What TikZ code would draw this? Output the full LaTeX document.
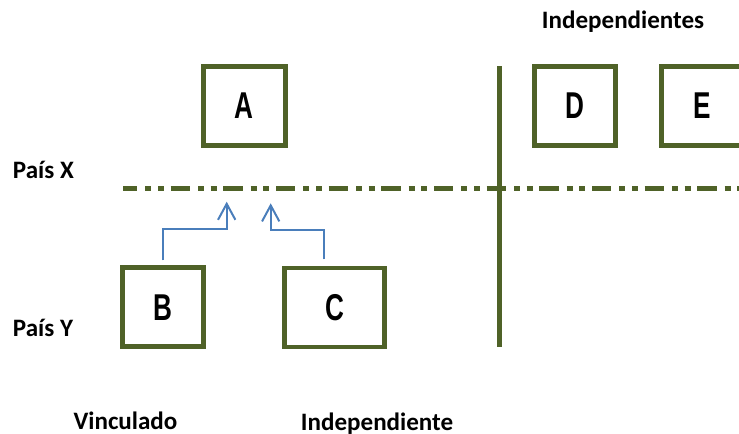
\documentclass[tikz,border=0pt]{standalone}
\usepackage{fontspec}
\setmainfont{Carlito}
\newfontfamily\boxfont[FakeStretch=0.7]{Liberation Sans}
\usepackage{tikz}
\usetikzlibrary{arrows.meta,positioning}

\definecolor{olive}{HTML}{4F6228}
\definecolor{steel}{HTML}{4A7EBB}

\tikzset{
    entity/.style={draw=olive,line width=3.5pt,rectangle,inner sep=0pt,
        minimum height=79*0.75pt,font=\boxfont\bfseries\fontsize{28}{30}\selectfont},
    tag/.style={inner sep=0pt,anchor=base west,font=\bfseries\fontsize{18.8}{22}\selectfont},
    link/.style={draw=steel,line width=1.5pt,
        -{Straight Barb[length=12pt,width=13pt,line width=1.5pt]}},
    border/.style={draw=olive,line width=3.5pt}
}

\begin{document}
\begin{tikzpicture}[x=0.75pt,y=-0.75pt]
    \useasboundingbox (0,0) rectangle (739,433);
    \clip (0,0) rectangle (739,433);
    \path
        (244.2,105.7) node [entity,minimum width=82*0.75pt]  (boxA) {A}
        (575,106)     node [entity,minimum width=80.6*0.75pt] (boxD) {D}
        (702,106)     node [entity,minimum width=80.6*0.75pt] (boxE) {E}
        (162.9,307.2) node [entity,minimum width=81*0.75pt]  (boxB) {B}
        (334.5,307.5) node [entity,minimum width=99.6*0.75pt] (boxC) {C}
     ;
    % frontiers
    \draw [border,dash pattern=on 14.5pt off 6pt on 4.5pt off 5pt on 4.5pt off 5pt,
        dash phase=3.75pt] (123,188.3) -- (745,188.3);
    \draw [border] (499.3,66) -- (499.3,347);
    % labels
    \path
        (12.7,178.3)  node [tag] (paisX) {País X}
        (12.7,336.7)  node [tag] (paisY) {País Y}
        (73.3,429.5)  node [tag] (vinc) {Vinculado}
        (300.7,430)   node [tag] (indep) {Independiente}
        (541.7,28.3)  node [tag] (indeps) {Independientes}
     ;
    \coordinate (tipB) at (226.7,201.7);
    \coordinate (tipC) at (270.7,203.3);
    \draw [link] ([yshift=5*0.75pt]boxB.north) |- ([yshift=36.7*0.75pt]boxB.north -| tipB) -- (tipB);
    \draw [link] ([xshift=-10.5*0.75pt,yshift=6.3*0.75pt]boxC.north) |- ([yshift=35.7*0.75pt]boxC.north -| tipC) -- (tipC);
\end{tikzpicture}
\end{document}
